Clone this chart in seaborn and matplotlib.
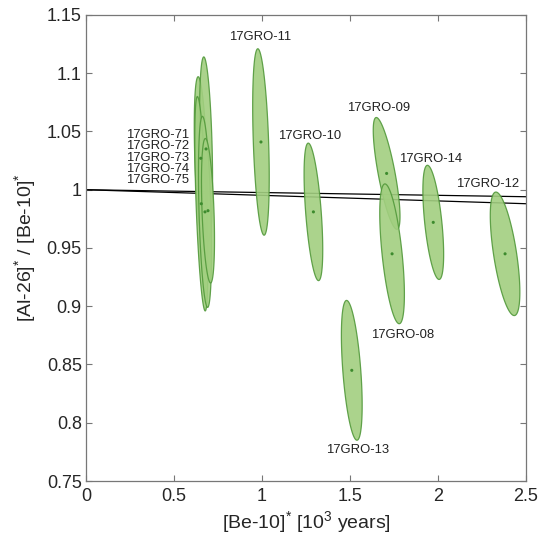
import numpy as np
import pandas as pd
import matplotlib
matplotlib.use("Agg")
import matplotlib.pyplot as plt
from matplotlib.ticker import FormatStrFormatter
import seaborn as sns

sns.set_style("ticks")
plt.rcParams["font.family"] = ["Liberation Sans", "DejaVu Sans"]
plt.rcParams["mathtext.default"] = "regular"

# sample data
samples = ["17GRO-71", "17GRO-72", "17GRO-73", "17GRO-74", "17GRO-75",
           "17GRO-11", "17GRO-10", "17GRO-09", "17GRO-08", "17GRO-14",
           "17GRO-12", "17GRO-13"]
be10 = [0.652, 0.682, 0.655, 0.676, 0.693, 0.994, 1.292, 1.708, 1.739, 1.973, 2.381, 1.510]
ratio = [1.027, 1.035, 0.988, 0.981, 0.982, 1.041, 0.981, 1.014, 0.945, 0.972, 0.945, 0.845]
sig_x = [0.037, 0.037, 0.037, 0.037, 0.037, 0.047, 0.053, 0.076, 0.070, 0.059, 0.084, 0.059]
sig_y = [0.070, 0.079, 0.092, 0.082, 0.062, 0.080, 0.059, 0.048, 0.060, 0.049, 0.053, 0.060]
rho = [-0.40, -0.35, -0.60, -0.40, -0.40, -0.38, -0.55, -0.77, -0.58, -0.56, -0.62, -0.50]

# curves (constant exposure / steady erosion)
curve_x = [0.0, 2.5]
upper_y = [1.0, 0.994]
lower_y = [1.0, 0.988]

# labels
label_text = ["17GRO-71\n17GRO-72\n17GRO-73\n17GRO-74\n17GRO-75", "17GRO-11", "17GRO-10",
              "17GRO-09", "17GRO-14", "17GRO-12", "17GRO-08", "17GRO-13"]
label_x = [0.585, 0.99, 1.27, 1.665, 1.955, 2.284, 1.80, 1.545]
label_y = [1.0275, 1.131, 1.046, 1.0705, 1.0267, 1.005, 0.875, 0.777]
label_ha = ["right", "center", "center", "center", "center", "center", "center", "center"]

df = pd.DataFrame({"sample": samples, "be10": be10, "ratio": ratio,
                   "sx": sig_x, "sy": sig_y, "rho": rho})

fig = plt.figure(figsize=(5.39, 5.39), dpi=100)
ax = fig.add_axes([0.1596, 0.1076, 0.8163, 0.8646])

sns.lineplot(x=curve_x, y=upper_y, color="black", linewidth=0.9, ax=ax)
sns.lineplot(x=curve_x, y=lower_y, color="black", linewidth=0.9, ax=ax)

t = np.linspace(0, 2 * np.pi, 200)
for _, r in df.iterrows():
    ex = r.be10 + r.sx * np.cos(t)
    ey = r.ratio + r.sy * (r.rho * np.cos(t) + np.sqrt(1 - r.rho ** 2) * np.sin(t))
    ax.fill(ex, ey, facecolor="#a2cf80", edgecolor="#52993b", linewidth=0.9,
            alpha=0.9, zorder=3)

sns.scatterplot(data=df, x="be10", y="ratio", color="#3d8b2e", s=5,
                edgecolor="none", zorder=4, ax=ax)

for txt, lx, ly, ha in zip(label_text, label_x, label_y, label_ha):
    ax.text(lx, ly, txt, ha=ha, va="center", fontsize=9.4, color="#222222",
            linespacing=0.92)

ax.set_xlim(0, 2.5)
ax.set_ylim(0.75, 1.15)
ax.set_xticks(np.arange(0, 2.51, 0.5))
ax.set_yticks(np.arange(0.75, 1.151, 0.05))
ax.xaxis.set_major_formatter(FormatStrFormatter("%g"))
ax.yaxis.set_major_formatter(FormatStrFormatter("%g"))
ax.tick_params(direction="in", top=True, right=True, length=4, width=0.8,
               labelsize=13, color="#777777")
ax.tick_params(axis="x", pad=5)
ax.tick_params(axis="y", pad=3)
for sp in ax.spines.values():
    sp.set_color("#777777")
    sp.set_linewidth(0.9)

ax.set_xlabel("[Be-10]$^{*}$ [10$^{3}$ years]", fontsize=14, labelpad=3)
ax.set_ylabel("[Al-26]$^{*}$ / [Be-10]$^{*}$", fontsize=14, labelpad=6)

fig.savefig("out.png", dpi=100)
